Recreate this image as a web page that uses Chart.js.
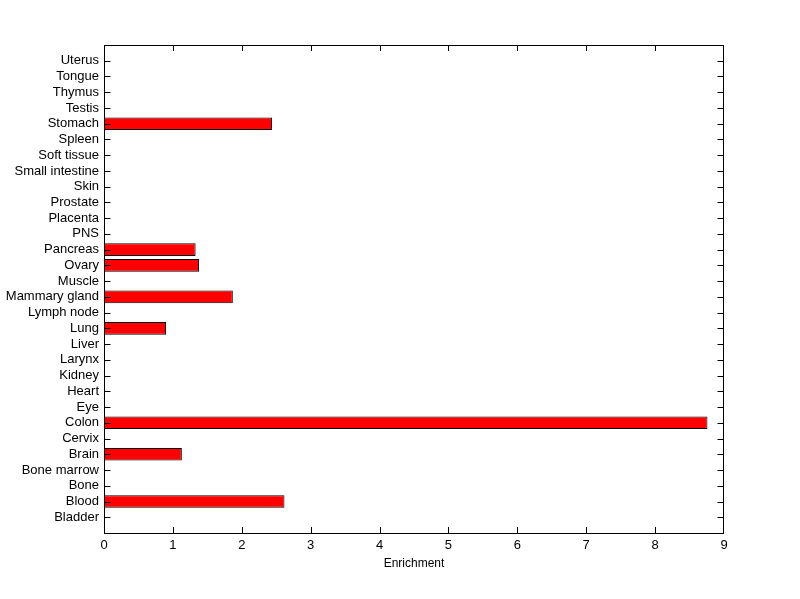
<!DOCTYPE html>
<html>
<head>
<meta charset="utf-8">
<script src="https://cdn.jsdelivr.net/npm/chart.js@4"></script>
<style>
  html, body { margin: 0; padding: 0; background: #fff; }
  #chart { display: block; }
</style>
</head>
<body>
<canvas id="chart" width="800" height="599"></canvas>
<script>
const tissues = [
  "Bladder", "Blood", "Bone", "Bone marrow", "Brain", "Cervix", "Colon", "Eye",
  "Heart", "Kidney", "Larynx", "Liver", "Lung", "Lymph node", "Mammary gland",
  "Muscle", "Ovary", "Pancreas", "PNS", "Placenta", "Prostate", "Skin",
  "Small intestine", "Soft tissue", "Spleen", "Stomach", "Testis", "Thymus",
  "Tongue", "Uterus",
];
const enrichment = [
  0, 2.62, 0, 0, 1.13, 0, 8.76, 0,
  0, 0, 0, 0, 0.90, 0, 1.87,
  0, 1.38, 1.33, 0, 0, 0, 0,
  0, 0, 0, 2.44, 0, 0,
  0, 0,
];
const xTicks = [0, 1, 2, 3, 4, 5, 6, 7, 8, 9];

const fontFamily = "'Liberation Sans', Arial, sans-serif";

// matlab style box with inward ticks on all four sides
const frameTicks = {
  id: "frameTicks",
  afterDatasetsDraw(chart) {
    const { ctx, chartArea: area, scales } = chart;
    const len = 6;
    const left = area.left + 0.5;
    const right = area.right - 0.5;
    ctx.save();
    ctx.strokeStyle = "#000";
    ctx.lineWidth = 1;
    ctx.beginPath();
    scales.x.ticks.forEach((tick) => {
      const px = scales.x.getPixelForValue(tick.value);
      if (px <= area.left + 1 || px >= area.right - 1) return;
      const x = Math.round(px) + 0.5;
      ctx.moveTo(x, area.bottom);
      ctx.lineTo(x, area.bottom - len);
      ctx.moveTo(x, area.top);
      ctx.lineTo(x, area.top + len);
    });
    scales.y.ticks.forEach((tick) => {
      const y = Math.round(scales.y.getPixelForValue(tick.value)) + 0.5;
      ctx.moveTo(left, y);
      ctx.lineTo(left + len, y);
      ctx.moveTo(right, y);
      ctx.lineTo(right - len, y);
    });
    ctx.stroke();
    ctx.strokeRect(left, area.top + 0.5, right - left, area.bottom - area.top);
    ctx.restore();
  },
};

new Chart(document.querySelector("#chart"), {
  type: "bar",
  data: {
    datasets: [{
      data: enrichment.map((value, index) => ({ x: value, y: index })),
      backgroundColor: "#ff0000",
      borderColor: "#000000",
      borderWidth: 1,
      borderSkipped: false,
      inflateAmount: 0,
      barPercentage: 0.8,
      categoryPercentage: 1,
    }],
  },
  options: {
    indexAxis: "y",
    responsive: false,
    animation: false,
    events: [],
    layout: { padding: { top: 45, right: 76, left: 0, bottom: 0 } },
    plugins: { legend: { display: false }, tooltip: { enabled: false } },
    scales: {
      x: {
        type: "linear",
        min: 0,
        max: 9,
        afterBuildTicks: (scale) => { scale.ticks = xTicks.map((value) => ({ value })); },
        afterFit: (scale) => { scale.height = 66; },
        grid: { display: false, drawTicks: false },
        border: { display: false },
        ticks: { color: "#000", padding: 5, font: { family: fontFamily, size: 13 } },
        title: {
          display: true,
          text: "Enrichment",
          color: "#000",
          font: { family: fontFamily, size: 12 },
          padding: { top: 0, bottom: 28 },
        },
      },
      y: {
        type: "linear",
        offset: false,
        min: -1,
        max: tissues.length,
        afterBuildTicks: (scale) => { scale.ticks = tissues.map((_, index) => ({ value: index })); },
        afterFit: (scale) => { scale.width = 104; },
        grid: { display: false, drawTicks: false, offset: false },
        border: { display: false },
        ticks: {
          color: "#000",
          padding: 5,
          autoSkip: false,
          font: { family: fontFamily, size: 13 },
          callback: (value) => tissues[value] ?? "",
        },
      },
    },
  },
  plugins: [frameTicks],
});
</script>
</body>
</html>
